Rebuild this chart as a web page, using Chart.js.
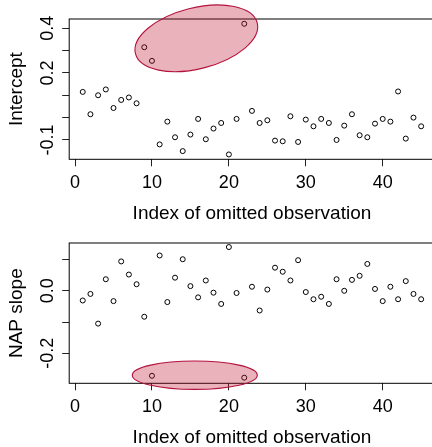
<!DOCTYPE html>
<html>
<head>
<meta charset="utf-8">
<script src="https://cdn.jsdelivr.net/npm/chart.js@4.4.0/dist/chart.umd.min.js"></script>
<style>
  html, body { margin: 0; padding: 0; background: #fff; overflow: hidden; }
  #wrap { position: relative; width: 432px; height: 447px; overflow: hidden; }
  .panel { position: absolute; left: 0; width: 440px; height: 224px; }
  #top { top: 0; }
  #bottom { top: 224px; }
</style>
</head>
<body>
<div id="wrap">
  <div class="panel" id="top"><canvas id="interceptChart"></canvas></div>
  <div class="panel" id="bottom"><canvas id="slopeChart"></canvas></div>
</div>
<script>
// data
const obsIndex = [1, 2, 3, 4, 5, 6, 7, 8, 9, 10, 11, 12, 13, 14, 15, 16, 17, 18, 19, 20, 21, 22, 23,
    24, 25, 26, 27, 28, 29, 30, 31, 32, 33, 34, 35, 36, 37, 38, 39, 40, 41, 42, 43, 44, 45];
const intercept = [0.115, 0.015, 0.100, 0.126, 0.043, 0.079, 0.090, 0.064, 0.315, 0.254,
    -0.120, -0.018, -0.088, -0.150, -0.076, -0.006, -0.097, -0.049, -0.024, -0.165,
    -0.006, 0.420, 0.030, -0.024, -0.012, -0.103, -0.106, 0.006, -0.109, -0.009,
    -0.039, -0.006, -0.024, -0.100, -0.036, 0.015, -0.079, -0.088, -0.027, -0.006,
    -0.018, 0.117, -0.094, 0.000, -0.039];
const napSlope = [-0.031, -0.010, -0.105, 0.037, -0.033, 0.094, 0.052, 0.021, -0.083, -0.272,
    0.113, -0.036, 0.042, 0.101, 0.015, -0.021, 0.033, -0.006, -0.042, 0.140,
    -0.007, -0.278, 0.013, -0.063, 0.004, 0.074, 0.061, 0.033, 0.098, -0.004,
    -0.027, -0.019, -0.042, 0.037, 0.000, 0.035, 0.048, 0.086, 0.006, -0.033,
    0.013, -0.027, 0.031, -0.010, -0.027];

const xTicks = [0, 10, 20, 30, 40];
const interceptTicks = [-0.1, 0, 0.1, 0.2, 0.3, 0.4];
const interceptLabels = ['-0.1', '', '', '0.2', '', '0.4'];
const slopeTicks = [-0.2, -0.1, 0, 0.1];
const slopeLabels = ['-0.2', '', '0.0', ''];

const FONT = "'Liberation Sans', Arial, Helvetica, sans-serif";
Chart.defaults.font.family = FONT;
Chart.defaults.color = '#000';

// R-like box, rotated y labels and the highlight ellipse
const rStyle = {
    id: 'rStyle',
    beforeDatasetsDraw(chart) {
        const { ctx, chartArea: a } = chart;
        ctx.save();
        ctx.strokeStyle = '#000';
        ctx.lineWidth = 1;
        ctx.strokeRect(a.left, a.top, a.right - a.left, a.bottom - a.top);
        ctx.restore();
    },
    afterDatasetsDraw(chart, args, opts) {
        const { ctx, scales } = chart;
        const e = opts.ellipse;
        ctx.save();
        ctx.translate(scales.x.getPixelForValue(e.x), scales.y.getPixelForValue(e.y));
        ctx.rotate(e.angle * Math.PI / 180);
        ctx.beginPath();
        ctx.ellipse(0, 0, e.rx, e.ry, 0, 0, Math.PI * 2);
        ctx.fillStyle = 'rgba(190, 20, 50, 0.33)';
        ctx.fill();
        ctx.strokeStyle = '#b3123c';
        ctx.lineWidth = 1.1;
        ctx.stroke();
        ctx.restore();
    },
    afterDraw(chart, args, opts) {
        const { ctx, scales } = chart;
        ctx.save();
        ctx.font = '18px ' + FONT;
        ctx.fillStyle = '#000';
        ctx.textAlign = 'center';
        ctx.textBaseline = 'middle';
        opts.ticks.forEach((v, i) => {
            const lab = opts.labels[i];
            if (!lab) return;
            ctx.save();
            ctx.translate(opts.labelX, scales.y.getPixelForValue(v));
            ctx.rotate(-Math.PI / 2);
            ctx.fillText(lab, 0, 0);
            ctx.restore();
        });
        ctx.restore();
    }
};

function makeChart(id, values, yTitle, yMin, yMax, ticks, labels, ellipse) {
    const ctx = document.getElementById(id).getContext('2d');
    return new Chart(ctx, {
        type: 'scatter',
        data: {
            datasets: [{
                data: obsIndex.map((x, i) => ({ x: x, y: values[i] })),
                pointStyle: 'circle',
                pointRadius: 2.5,
                pointBorderWidth: 1,
                pointBorderColor: '#000',
                pointBackgroundColor: 'rgba(0,0,0,0)',
                showLine: false
            }]
        },
        options: {
            responsive: true,
            maintainAspectRatio: false,
            animation: false,
            events: [],
            layout: { padding: { top: 19, right: 5.3, bottom: 0, left: 0 } },
            plugins: {
                legend: { display: false },
                tooltip: { enabled: false },
                rStyle: { ticks: ticks, labels: labels, labelX: 48, ellipse: ellipse }
            },
            scales: {
                x: {
                    type: 'linear',
                    min: -0.76,
                    max: 46.76,
                    afterBuildTicks: s => { s.ticks = xTicks.map(v => ({ value: v })); },
                    afterFit: s => { s.height = 64.7; },
                    grid: { drawOnChartArea: false, drawTicks: true, tickLength: 7, color: '#222' },
                    border: { display: false },
                    ticks: { font: { size: 18 }, padding: 6, autoSkip: false, maxRotation: 0 },
                    title: {
                        display: true,
                        text: 'Index of omitted observation',
                        font: { size: 19, lineHeight: 1.1 },
                        padding: { top: 0, bottom: 0 }
                    }
                },
                y: {
                    min: yMin,
                    max: yMax,
                    afterBuildTicks: s => { s.ticks = ticks.map(v => ({ value: v })); },
                    afterFit: s => { s.width = 69.2; },
                    grid: { drawOnChartArea: false, drawTicks: true, tickLength: 7, color: '#222' },
                    border: { display: false },
                    ticks: { display: false },
                    title: {
                        display: true,
                        text: yTitle,
                        font: { size: 19, lineHeight: 1.1 },
                        padding: { top: 6.5, bottom: 0 }
                    }
                }
            }
        },
        plugins: [rStyle]
    });
}

makeChart('interceptChart', intercept, 'Intercept', -0.1867, 0.4414,
    interceptTicks, interceptLabels, { x: 15.77, y: 0.355, rx: 62.8, ry: 30.5, angle: -14.2 });
makeChart('slopeChart', napSlope, 'NAP slope', -0.296, 0.153,
    slopeTicks, slopeLabels, { x: 15.57, y: -0.270, rx: 62.5, ry: 14.2, angle: 0 });
</script>
</body>
</html>
